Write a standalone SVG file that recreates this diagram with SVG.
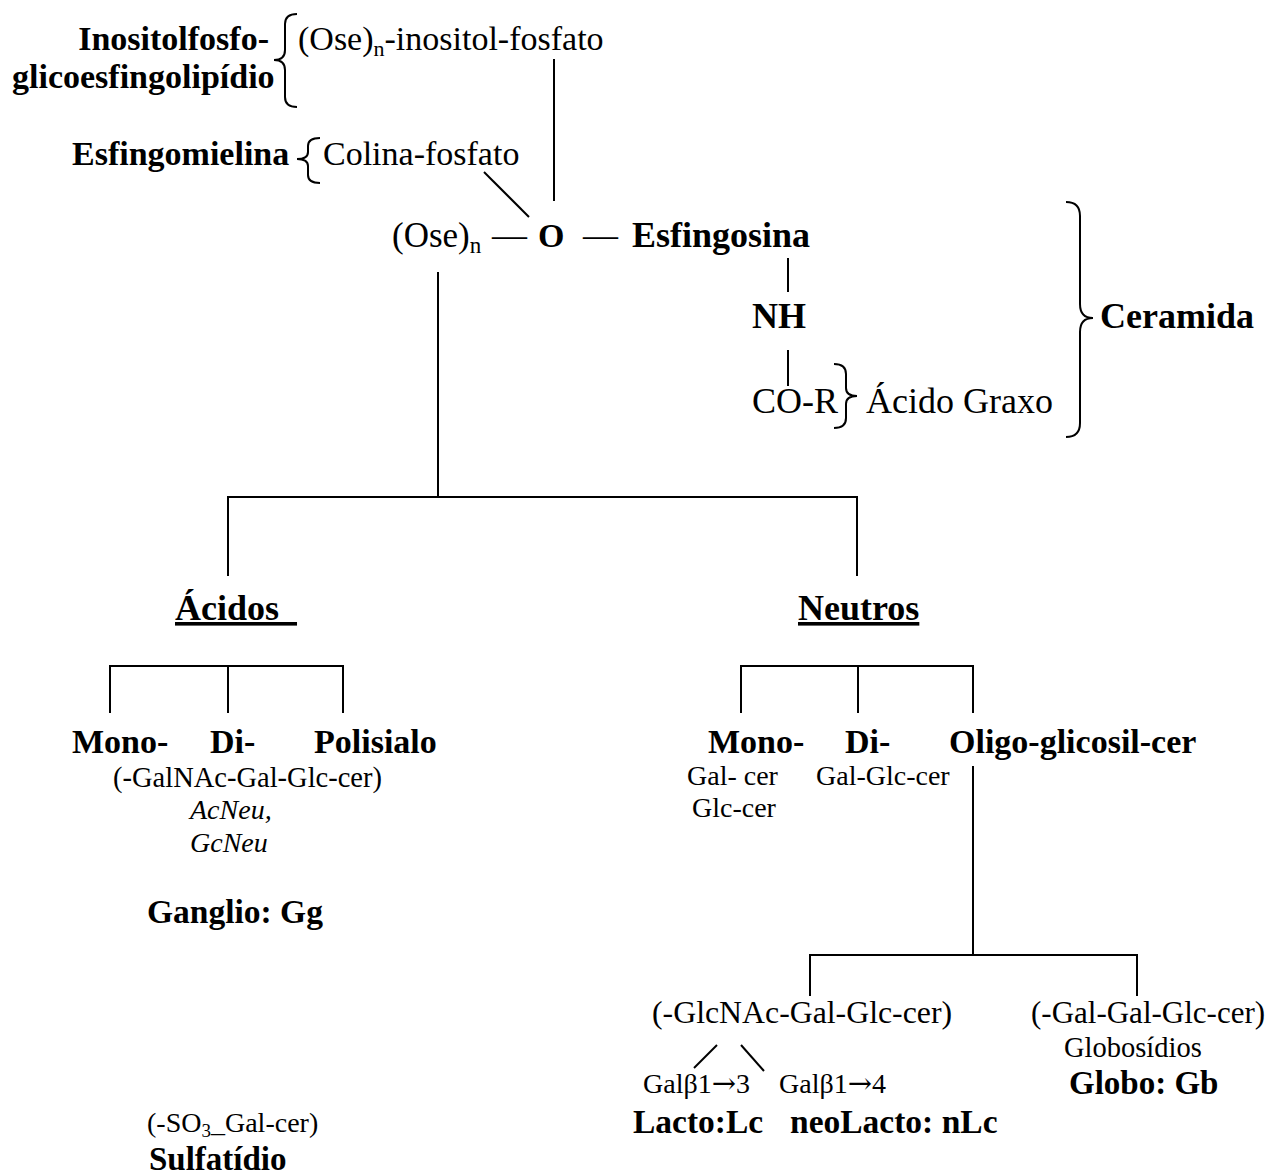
<svg xmlns="http://www.w3.org/2000/svg" width="1269" height="1175" viewBox="0 0 1269 1175">
<style>
text{font-family:"Liberation Serif","Times New Roman",serif;fill:#000}
.b{font-weight:bold}
.r34{font-size:34px}
.r28{font-size:28px}
.b34{font-size:34px;font-weight:bold}
.b36{font-size:36px;font-weight:bold}
.it{font-style:italic;font-size:28px}
.u{text-decoration:underline}
.ar{font-family:"DejaVu Serif","DejaVu Sans",serif;font-size:29px}
.ln{stroke:#000;stroke-width:2;fill:none}
.br{stroke:#000;stroke-width:2;fill:none}
</style>
<rect width="1269" height="1175" fill="#fff"/>
<g id="connectors" class="ln">
  <line x1="554" y1="59" x2="554" y2="201"/>
  <line x1="484" y1="172" x2="529" y2="217"/>
  <line x1="788" y1="258" x2="788" y2="292"/>
  <line x1="788" y1="350" x2="788" y2="386"/>
  <line x1="438" y1="272" x2="438" y2="497"/>
  <polyline points="228,576 228,497 857,497 857,576"/>
  <polyline points="110,713 110,666 343,666 343,713"/>
  <line x1="228" y1="666" x2="228" y2="713"/>
  <polyline points="741,713 741,666 973,666 973,713"/>
  <line x1="858" y1="666" x2="858" y2="713"/>
  <line x1="973" y1="766" x2="973" y2="955"/>
  <polyline points="810,996 810,955 1137,955 1137,996"/>
  <line x1="717" y1="1045" x2="694" y2="1068"/>
  <line x1="741" y1="1045" x2="764" y2="1071"/>
</g>
<g id="inositolfosfo">
  <text class="b34" x="269" y="50" text-anchor="end">Inositolfosfo-</text>
  <text class="b34" x="12" y="88">glicoesfingolipídio</text>
  <path class="br" d="M297,14 Q285,14 285,24 L285,50 Q285,60 274,60 Q285,60 285,70 L285,97 Q285,107 297,107"/>
  <text class="r34" x="298" y="50">(Ose)<tspan font-size="22" dy="6">n</tspan><tspan dy="-6">-inositol-fosfato</tspan></text>
</g>
<g id="esfingomielina">
  <text class="b34" x="72" y="165">Esfingomielina</text>
  <path class="br" d="M320,138 Q308,138 308,146 L308,152 Q308,159 297,159 Q308,159 308,166 L308,175 Q308,183 320,183"/>
  <text class="r34" x="323" y="165">Colina-fosfato</text>
</g>
<g id="ose-o-esfingosina">
  <text style="font-size:35px" x="392" y="247">(Ose)<tspan font-size="23" dy="6">n</tspan></text>
  <text style="font-size:35px" x="492" y="247">—</text>
  <text class="b34" x="538" y="247">O</text>
  <text style="font-size:35px" x="583" y="247">—</text>
  <text class="b36" x="632" y="247">Esfingosina</text>
</g>
<g id="nh">
  <text class="b36" x="752" y="328">NH</text>
</g>
<g id="cor">
  <text style="font-size:36px" x="752" y="413">CO-R</text>
  <path class="br" d="M834,364 Q846,364 846,374 L846,388 Q846,396 857,396 Q846,396 846,404 L846,418 Q846,428 834,428"/>
  <text style="font-size:36px" x="866" y="413">Ácido Graxo</text>
</g>
<g id="ceramida">
  <path class="br" d="M1066,202 Q1080,202 1080,216 L1080,304 Q1080,318 1093,318 Q1080,318 1080,332 L1080,423 Q1080,437 1066,437"/>
  <text class="b36" x="1100" y="328">Ceramida</text>
</g>
<g id="acidos">
  <text class="b36 u" x="175" y="620" xml:space="preserve">Ácidos&#160;&#160;</text>
</g>
<g id="neutros">
  <text class="b36 u" x="798" y="620">Neutros</text>
</g>
<g id="acidos-mono"><text class="b34" x="72" y="753">Mono-</text></g>
<g id="acidos-di">
  <text class="b34" x="210" y="753">Di-</text>
  <text style="font-size:28.5px" x="113" y="787">(-GalNAc-Gal-Glc-cer)</text>
  <text class="it" x="190" y="819">AcNeu,</text>
  <text class="it" x="190" y="852">GcNeu</text>
</g>
<g id="acidos-poli"><text class="b34" x="314" y="753">Polisialo</text></g>
<g id="ganglio"><text style="font-size:33.5px;font-weight:bold" x="147" y="923">Ganglio: Gg</text></g>
<g id="neutros-mono">
  <text class="b34" x="708" y="753">Mono-</text>
  <text class="r28" x="687" y="785">Gal- cer</text>
  <text class="r28" x="692" y="817">Glc-cer</text>
</g>
<g id="neutros-di">
  <text class="b34" x="845" y="753">Di-</text>
  <text class="r28" x="816" y="785">Gal-Glc-cer</text>
</g>
<g id="oligo"><text class="b34" x="949" y="753">Oligo-glicosil-cer</text></g>
<g id="lacto">
  <text style="font-size:31.8px" x="652" y="1023">(-GlcNAc-Gal-Glc-cer)</text>
</g>
<g id="lacto-lc">
  <text class="r28" x="643" y="1093">Galβ1<tspan class="ar">→</tspan>3</text>
  <text style="font-size:33.5px;font-weight:bold" x="633" y="1133">Lacto:Lc</text>
</g>
<g id="neolacto">
  <text class="r28" x="779" y="1093">Galβ1<tspan class="ar">→</tspan>4</text>
  <text style="font-size:33.5px;font-weight:bold" x="790" y="1133">neoLacto: nLc</text>
</g>
<g id="globo">
  <text style="font-size:31px" x="1031" y="1023">(-Gal-Gal-Glc-cer)</text>
  <text style="font-size:28.5px" x="1064" y="1057">Globosídios</text>
  <text style="font-size:33px;font-weight:bold" x="1069" y="1094">Globo: Gb</text>
</g>
<g id="sulfatidio">
  <text class="r28" x="147" y="1132">(-SO<tspan font-size="19" dy="5">3</tspan><tspan dy="-5">_Gal-cer)</tspan></text>
  <text style="font-size:33px;font-weight:bold" x="149" y="1170">Sulfatídio</text>
</g>
</svg>
